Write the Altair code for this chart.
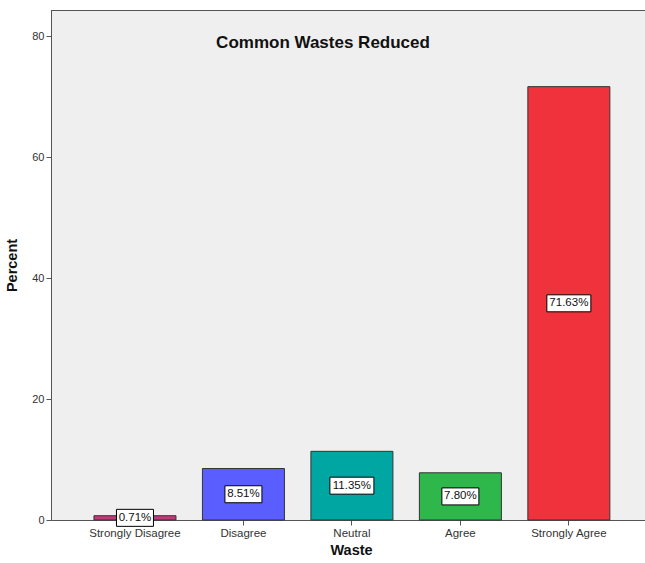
import altair as alt
import pandas as pd

# Survey responses for "Common Wastes Reduced"
categories = ["Strongly Disagree", "Disagree", "Neutral", "Agree", "Strongly Agree"]
percents = [0.71, 8.51, 11.35, 7.80, 71.63]
bar_colors = ["#C4377C", "#5B5EFF", "#00A6A1", "#2EB84B", "#EF323B"]
y_ticks = [0, 20, 40, 60, 80]

df = pd.DataFrame({"Waste": categories, "Percent": percents})
df["label"] = [f"{p:.2f}%" for p in percents]
df["mid"] = df["Percent"] / 2
# label box: width follows text length, fixed 17px height
widths = [7 * len(t) + 2 for t in df["label"]]
df["box_size"] = [w * w for w in widths]
df["box_shape"] = [f"M-1,{-17 / w:.4f}H1V{17 / w:.4f}H-1Z" for w in widths]

W, H = 594, 510
x_scale = alt.Scale(domain=categories, paddingInner=0.244, paddingOuter=0.36, align=0.55)
y_scale = alt.Scale(domain=[0, 84.3], nice=False, zero=True)

x_enc = alt.X(
    "Waste:N",
    sort=categories,
    scale=x_scale,
    axis=alt.Axis(
        title="Waste",
        labelAngle=0,
        labelFontSize=11.5,
        labelColor="#333333",
        labelFont="Liberation Sans",
        tickSize=5,
        tickColor="#555555",
        domainColor="#555555",
        titleFont="Liberation Sans",
        titleFontSize=14.5,
        titleFontWeight="bold",
        titleColor="#111111",
        titleX=300,
        titleY=30,
        titleBaseline="middle",
    ),
)
y_enc = alt.Y(
    "Percent:Q",
    scale=y_scale,
    axis=alt.Axis(
        title="Percent",
        values=y_ticks,
        grid=False,
        labelFontSize=11,
        labelColor="#333333",
        labelFont="Liberation Sans",
        tickSize=5,
        tickColor="#555555",
        domainColor="#555555",
        titleFont="Liberation Sans",
        titleFontSize=14.5,
        titleFontWeight="bold",
        titleColor="#111111",
        titleX=-39,
        titleY=255,
        titleAngle=270,
        titleAlign="center",
        titleBaseline="middle",
    ),
)

base = alt.Chart(df)

bars = base.mark_bar(stroke="#333333", strokeWidth=1).encode(
    x=x_enc,
    y=y_enc,
    color=alt.Color("Waste:N", scale=alt.Scale(domain=categories, range=bar_colors), legend=None),
)

boxes = base.mark_point(filled=True, fill="white", stroke="black", strokeWidth=1, opacity=1).encode(
    x=alt.X("Waste:N", sort=categories, scale=x_scale),
    y=alt.Y("mid:Q", scale=y_scale),
    size=alt.Size("box_size:Q", scale=None),
    shape=alt.Shape("box_shape:N", scale=None),
)

labels = base.mark_text(font="Liberation Sans", fontSize=11.5, color="#111111", baseline="middle").encode(
    x=alt.X("Waste:N", sort=categories, scale=x_scale),
    y=alt.Y("mid:Q", scale=y_scale),
    text="label:N",
)

top_border = alt.Chart(pd.DataFrame({"a": [0]})).mark_rule(color="#555555", strokeWidth=1).encode(
    x=alt.value(0), x2=alt.value(W), y=alt.value(0.5)
)

title = alt.Chart(pd.DataFrame({"t": ["Common Wastes Reduced"]})).mark_text(
    font="Liberation Sans", fontSize=17, fontWeight="bold", color="#111111", baseline="middle"
).encode(x=alt.value(272), y=alt.value(33), text="t:N")

chart = (
    alt.layer(bars, boxes, labels, top_border, title)
    .properties(
        width=W,
        height=H,
        autosize=alt.AutoSizeParams(type="none"),
        padding={"left": 51, "top": 10, "right": 0, "bottom": 43},
        background="white",
    )
    .configure_view(fill="#EFEFEF", stroke=None)
)

chart.save("out.html", embed_options={"renderer": "svg", "actions": False})
